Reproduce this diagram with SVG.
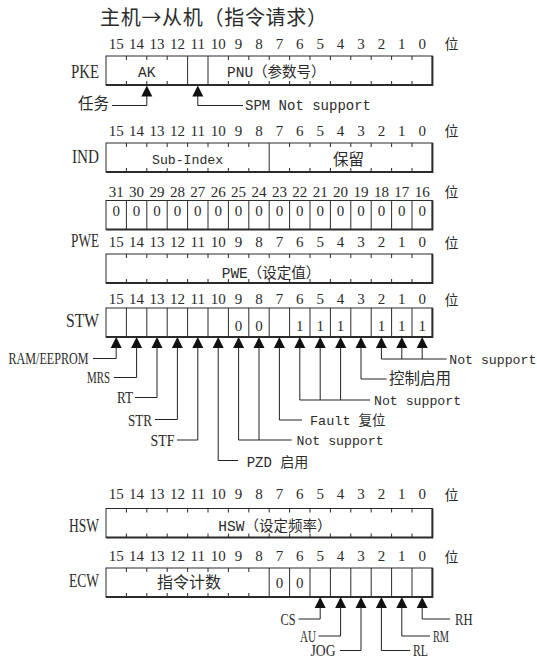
<svg xmlns="http://www.w3.org/2000/svg" xmlns:xlink="http://www.w3.org/1999/xlink" width="537" height="660" viewBox="0 0 537 660">
<style>
text{fill:#2b2b2b}
.t{font-family:"Noto Sans CJK SC",sans-serif;font-size:20px}
.n{font-family:"Liberation Serif",serif;font-size:15px;text-anchor:middle}
.w{font-family:"Noto Sans CJK SC",sans-serif;font-size:14px;text-anchor:middle}
.rl{font-family:"Liberation Serif",serif;font-size:19.5px;text-anchor:end}
.m{font-family:"Liberation Mono","Noto Sans CJK SC",monospace;font-size:14.5px}
.s{font-family:"Liberation Mono","Noto Sans CJK SC",monospace;font-size:13.2px}
.p{font-family:"Liberation Serif",serif;font-size:16px}
.c{font-family:"Noto Sans CJK SC",sans-serif;font-size:15.5px}
.mid{text-anchor:middle}
.end{text-anchor:end}
.bx{fill:#fff;stroke:#2b2b2b;stroke-width:1}
.sh{fill:none;stroke:#2b2b2b;stroke-width:2}
.dv{fill:none;stroke:#2b2b2b;stroke-width:1}
.ln{fill:none;stroke:#222;stroke-width:1}
.ah{fill:#111}
</style>
<defs>
<path id="ah" class="ah" d="M0,0 L5.5,11 L-5.5,11 Z"/>
<g id="box"><rect class="bx" x="106" y="0" width="326.4" height="29"/><path class="sh" d="M432.4,0V29H106"/></g>
<path id="tkall" class="dv" d="M126.4,0v4m0,21v4M146.8,0v4m0,21v4M167.2,0v4m0,21v4M187.6,0v4m0,21v4M208,0v4m0,21v4M228.4,0v4m0,21v4M248.8,0v4m0,21v4M269.2,0v4m0,21v4M289.6,0v4m0,21v4M310,0v4m0,21v4M330.4,0v4m0,21v4M350.8,0v4m0,21v4M371.2,0v4m0,21v4M391.6,0v4m0,21v4M412,0v4m0,21v4"/>
<path id="fullall" class="dv" d="M126.4,0V29M146.8,0V29M167.2,0V29M187.6,0V29M208,0V29M228.4,0V29M248.8,0V29M269.2,0V29M289.6,0V29M310,0V29M330.4,0V29M350.8,0V29M371.2,0V29M391.6,0V29M412,0V29"/>
<text id="b16" class="n"><tspan x="116.2">15</tspan><tspan x="136.6">14</tspan><tspan x="157">13</tspan><tspan x="177.4">12</tspan><tspan x="197.8">11</tspan><tspan x="218.2">10</tspan><tspan x="238.6">9</tspan><tspan x="259">8</tspan><tspan x="279.4">7</tspan><tspan x="299.8">6</tspan><tspan x="320.2">5</tspan><tspan x="340.6">4</tspan><tspan x="361">3</tspan><tspan x="381.4">2</tspan><tspan x="401.8">1</tspan><tspan x="422.2">0</tspan></text>
<text id="wei" class="w" x="451.5">位</text>
</defs>

<g id="title"><text class="t" x="100" y="25" textLength="227">主机→从机（指令请求）</text></g>

<g id="reg-pke">
<use xlink:href="#b16" y="48.5"/><use xlink:href="#wei" y="49"/>
<text class="rl" x="99" y="78" textLength="28" lengthAdjust="spacingAndGlyphs">PKE</text>
<use xlink:href="#box" y="56"/>
<path class="dv" d="M126.4,56v4m0,21v4M146.8,56v4m0,21v4M167.2,56v4m0,21v4M187.6,56V85M208,56V85M228.4,56v4m0,21v4M248.8,56v4m0,21v4M269.2,56v4m0,21v4M289.6,56v4m0,21v4M310,56v4m0,21v4M330.4,56v4m0,21v4M350.8,56v4m0,21v4M371.2,56v4m0,21v4M391.6,56v4m0,21v4M412,56v4m0,21v4"/>
<text class="m mid" x="146.8" y="77">AK</text>
<text class="m" x="227" y="77">PNU（参数号）</text>
</g>

<g id="reg-ind">
<use xlink:href="#b16" y="135.5"/><use xlink:href="#wei" y="136"/>
<text class="rl" x="99" y="163" textLength="27" lengthAdjust="spacingAndGlyphs">IND</text>
<use xlink:href="#box" y="143"/>
<path class="dv" d="M126.4,143v4m0,21v4M146.8,143v4m0,21v4M167.2,143v4m0,21v4M187.6,143v4m0,21v4M208,143v4m0,21v4M228.4,143v4m0,21v4M248.8,143v4m0,21v4M269.2,143V172M289.6,143v4m0,21v4M310,143v4m0,21v4M330.4,143v4m0,21v4M350.8,143v4m0,21v4M371.2,143v4m0,21v4M391.6,143v4m0,21v4M412,143v4m0,21v4"/>
<text class="s mid" x="187.6" y="164">Sub-Index</text>
<text class="c mid" x="348.5" y="164.5">保留</text>
</g>

<g id="reg-pwe-hi">
<text class="n" y="196.5"><tspan x="116.2">31</tspan><tspan x="136.6">30</tspan><tspan x="157">29</tspan><tspan x="177.4">28</tspan><tspan x="197.8">27</tspan><tspan x="218.2">26</tspan><tspan x="238.6">25</tspan><tspan x="259">24</tspan><tspan x="279.4">23</tspan><tspan x="299.8">22</tspan><tspan x="320.2">21</tspan><tspan x="340.6">20</tspan><tspan x="361">19</tspan><tspan x="381.4">18</tspan><tspan x="401.8">17</tspan><tspan x="422.2">16</tspan></text>
<use xlink:href="#wei" y="197"/>
<use xlink:href="#box" y="200.5"/>
<use xlink:href="#fullall" y="200.5"/>
<text class="n" y="216"><tspan x="116.2">0</tspan><tspan x="136.6">0</tspan><tspan x="157">0</tspan><tspan x="177.4">0</tspan><tspan x="197.8">0</tspan><tspan x="218.2">0</tspan><tspan x="238.6">0</tspan><tspan x="259">0</tspan><tspan x="279.4">0</tspan><tspan x="299.8">0</tspan><tspan x="320.2">0</tspan><tspan x="340.6">0</tspan><tspan x="361">0</tspan><tspan x="381.4">0</tspan><tspan x="401.8">0</tspan><tspan x="422.2">0</tspan></text>
</g>

<g id="reg-pwe-lo">
<text class="rl" x="99" y="247" textLength="28" lengthAdjust="spacingAndGlyphs">PWE</text>
<use xlink:href="#b16" y="247"/><use xlink:href="#wei" y="247.5"/>
<use xlink:href="#box" y="254"/>
<use xlink:href="#tkall" y="254"/>
<text class="m" x="221.7" y="277.5">PWE（设定值）</text>
</g>

<g id="reg-stw">
<use xlink:href="#b16" y="304"/><use xlink:href="#wei" y="304.5"/>
<text class="rl" x="99" y="327" textLength="33" lengthAdjust="spacingAndGlyphs">STW</text>
<use xlink:href="#box" y="308"/>
<use xlink:href="#fullall" y="308"/>
<text class="n" y="330.5"><tspan x="238.6">0</tspan><tspan x="259">0</tspan><tspan x="299.8">1</tspan><tspan x="320.2">1</tspan><tspan x="340.6">1</tspan><tspan x="381.4">1</tspan><tspan x="401.8">1</tspan><tspan x="422.2">1</tspan></text>
</g>

<g id="reg-hsw">
<use xlink:href="#b16" y="499"/><use xlink:href="#wei" y="499.5"/>
<text class="rl" x="99" y="531.5" textLength="30" lengthAdjust="spacingAndGlyphs">HSW</text>
<use xlink:href="#box" y="508.5"/>
<use xlink:href="#tkall" y="508.5"/>
<text class="m" x="218.3" y="531">HSW（设定频率）</text>
</g>

<g id="reg-ecw">
<use xlink:href="#b16" y="561"/><use xlink:href="#wei" y="561.5"/>
<text class="rl" x="99" y="586.5" textLength="30" lengthAdjust="spacingAndGlyphs">ECW</text>
<use xlink:href="#box" y="568"/>
<path class="dv" d="M126.4,568v4m0,21v4M146.8,568v4m0,21v4M167.2,568v4m0,21v4M187.6,568v4m0,21v4M208,568v4m0,21v4M228.4,568v4m0,21v4M248.8,568v4m0,21v4M269.2,568V597M289.6,568V597M310,568V597M330.4,568V597M350.8,568V597M371.2,568V597M391.6,568V597M412,568V597"/>
<text class="c mid" x="189" y="588" style="font-size:16px">指令计数</text>
<text class="n" y="587.5"><tspan x="279.4">0</tspan><tspan x="299.8">0</tspan></text>
</g>

<g id="connectors">
<use xlink:href="#ah" x="146.8" y="85.5"/>
<use xlink:href="#ah" x="197.8" y="85.5"/>
<path class="ln" d="M146.8,96V105.5H112M197.8,96V105.5H243"/>
<use xlink:href="#ah" x="116.2" y="337"/><use xlink:href="#ah" x="136.6" y="337"/><use xlink:href="#ah" x="157" y="337"/><use xlink:href="#ah" x="177.4" y="337"/><use xlink:href="#ah" x="197.8" y="337"/><use xlink:href="#ah" x="218.2" y="337"/><use xlink:href="#ah" x="238.6" y="337"/><use xlink:href="#ah" x="259" y="337"/><use xlink:href="#ah" x="279.4" y="337"/><use xlink:href="#ah" x="299.8" y="337"/><use xlink:href="#ah" x="320.2" y="337"/><use xlink:href="#ah" x="340.6" y="337"/><use xlink:href="#ah" x="361" y="337"/><use xlink:href="#ah" x="381.4" y="337"/><use xlink:href="#ah" x="401.8" y="337"/><use xlink:href="#ah" x="422.2" y="337"/>
<path class="ln" d="M116.2,347V358.5H93M136.6,347V377.5H114M157,347V397.5H135M177.4,347V419.5H155M197.8,347V440H177M218.2,347V460.5H238M238.6,347V440H291.7M259,347V440M279.4,347V420H302M299.8,347V400H370M320.2,347V400M340.6,347V400M361,347V379H386.7M381.4,347V359H446.7M401.8,347V359M422.2,347V359"/>
<use xlink:href="#ah" x="320.2" y="597"/><use xlink:href="#ah" x="340.6" y="597"/><use xlink:href="#ah" x="361" y="597"/><use xlink:href="#ah" x="381.4" y="597"/><use xlink:href="#ah" x="401.8" y="597"/><use xlink:href="#ah" x="422.2" y="597"/>
<path class="ln" d="M320.2,607V619H298.5M340.6,607V636H318.5M361,607V650.5H340M381.4,607V650.5H410M401.8,607V636H430M422.2,607V619H450"/>
</g>

<g id="labels">
<text class="c" x="78" y="109">任务</text>
<text class="m" x="245" y="110" style="font-size:14px">SPM Not support</text>
<text class="p end" x="88.5" y="364" textLength="80" lengthAdjust="spacingAndGlyphs">RAM/EEPROM</text>
<text class="p end" x="110" y="383" textLength="23" lengthAdjust="spacingAndGlyphs">MRS</text>
<text class="p end" x="133" y="403" textLength="16" lengthAdjust="spacingAndGlyphs">RT</text>
<text class="p end" x="152" y="425.5" textLength="24" lengthAdjust="spacingAndGlyphs">STR</text>
<text class="p end" x="174.5" y="446" textLength="24" lengthAdjust="spacingAndGlyphs">STF</text>
<text class="m" x="246.7" y="467" style="font-size:14px">PZD 启用</text>
<text class="s" x="296.5" y="445">Not support</text>
<text class="m" x="310" y="425" style="font-size:13.5px">Fault 复位</text>
<text class="s" x="374" y="405">Not support</text>
<text class="c" x="389" y="384">控制启用</text>
<text class="s" x="449.3" y="363.5">Not support</text>
<text class="p end" x="295.5" y="624.5" textLength="15" lengthAdjust="spacingAndGlyphs">CS</text>
<text class="p end" x="316" y="641.5" textLength="16" lengthAdjust="spacingAndGlyphs">AU</text>
<text class="p end" x="335.5" y="656" textLength="25" lengthAdjust="spacingAndGlyphs">JOG</text>
<text class="p" x="413" y="656" textLength="15" lengthAdjust="spacingAndGlyphs">RL</text>
<text class="p" x="433" y="641.5" textLength="16" lengthAdjust="spacingAndGlyphs">RM</text>
<text class="p" x="455" y="624.5" textLength="17.5" lengthAdjust="spacingAndGlyphs">RH</text>
</g>
</svg>
